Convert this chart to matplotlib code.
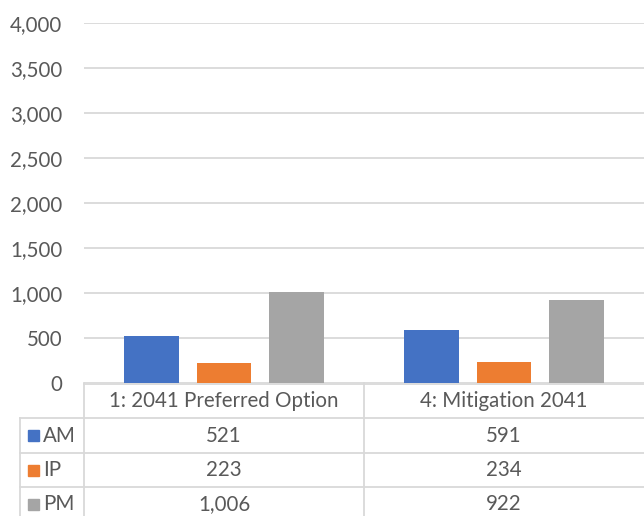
import matplotlib
matplotlib.use("Agg")
from matplotlib import pyplot as plt
import numpy as np

categories = ["1: 2041 Preferred Option", "4: Mitigation 2041"]
series = ["AM", "IP", "PM"]
am = [521, 591]
ip = [223, 234]
pm = [1006, 922]
yticks = [0, 500, 1000, 1500, 2000, 2500, 3000, 3500, 4000]

colors = ["#4472C4", "#ED7D31", "#A5A5A5"]
grid_c = "#D9D9D9"
text_c = "#595959"
plt.rcParams["font.family"] = ["Lato", "DejaVu Sans"]
fs = 14.8

W, H = 644, 516
fig = plt.figure(figsize=(W / 100, H / 100), dpi=100)

# main plot area
ax = fig.add_axes([84 / W, (H - 383) / H, 560 / W, 360 / H])
x = np.arange(len(categories)) + 0.5
offs = [-0.26, 0, 0.26]
for vals, off, c in zip([am, ip, pm], offs, colors):
    ax.bar(x + off, vals, width=0.196, color=c, zorder=3)
ax.set_xlim(0, 2)
ax.set_ylim(0, 4000)
ax.set_yticks(yticks)
ax.set_yticklabels([f"{v:,}" for v in yticks], fontsize=fs, color=text_c)
ax.tick_params(axis="y", length=0, pad=15.5)
ax.set_xticks([])
ax.grid(axis="y", color=grid_c, linewidth=1.3, zorder=0)
for s in ax.spines.values():
    s.set_visible(False)

# data table underneath
tb = fig.add_axes([20 / W, 0, 624 / W, 133 / H])
left = -64 / 280
tb.set_xlim(left, 2)
tb.set_ylim(133, 0)
tb.axis("off")
lw = 1.3
tb.plot([0, 2], [0.5, 0.5], color=grid_c, lw=lw, clip_on=False)
for yy in [35, 70, 104]:
    tb.plot([left, 2], [yy, yy], color=grid_c, lw=lw, clip_on=False)
tb.plot([left, left], [35, 133], color=grid_c, lw=lw, clip_on=False)
for xx in [0, 1]:
    tb.plot([xx, xx], [0, 133], color=grid_c, lw=lw, clip_on=False)

for xc, cat in zip(x, categories):
    tb.text(xc, 18, cat, ha="center", va="center", fontsize=fs, color=text_c)

row_y = [52.5, 87, 121]
for ry, name, vals, c in zip(row_y, series, [am, ip, pm], colors):
    tb.add_patch(plt.Rectangle((8 / 280 + left, ry - 5.5), 11 / 280, 11,
                               color=c, clip_on=False))
    tb.text(left + 23 / 280, ry, name, ha="left", va="center",
            fontsize=fs, color=text_c)
    for xc, v in zip(x, vals):
        tb.text(xc, ry, f"{v:,}", ha="center", va="center",
                fontsize=fs, color=text_c)

fig.savefig("out.png", dpi=100)
